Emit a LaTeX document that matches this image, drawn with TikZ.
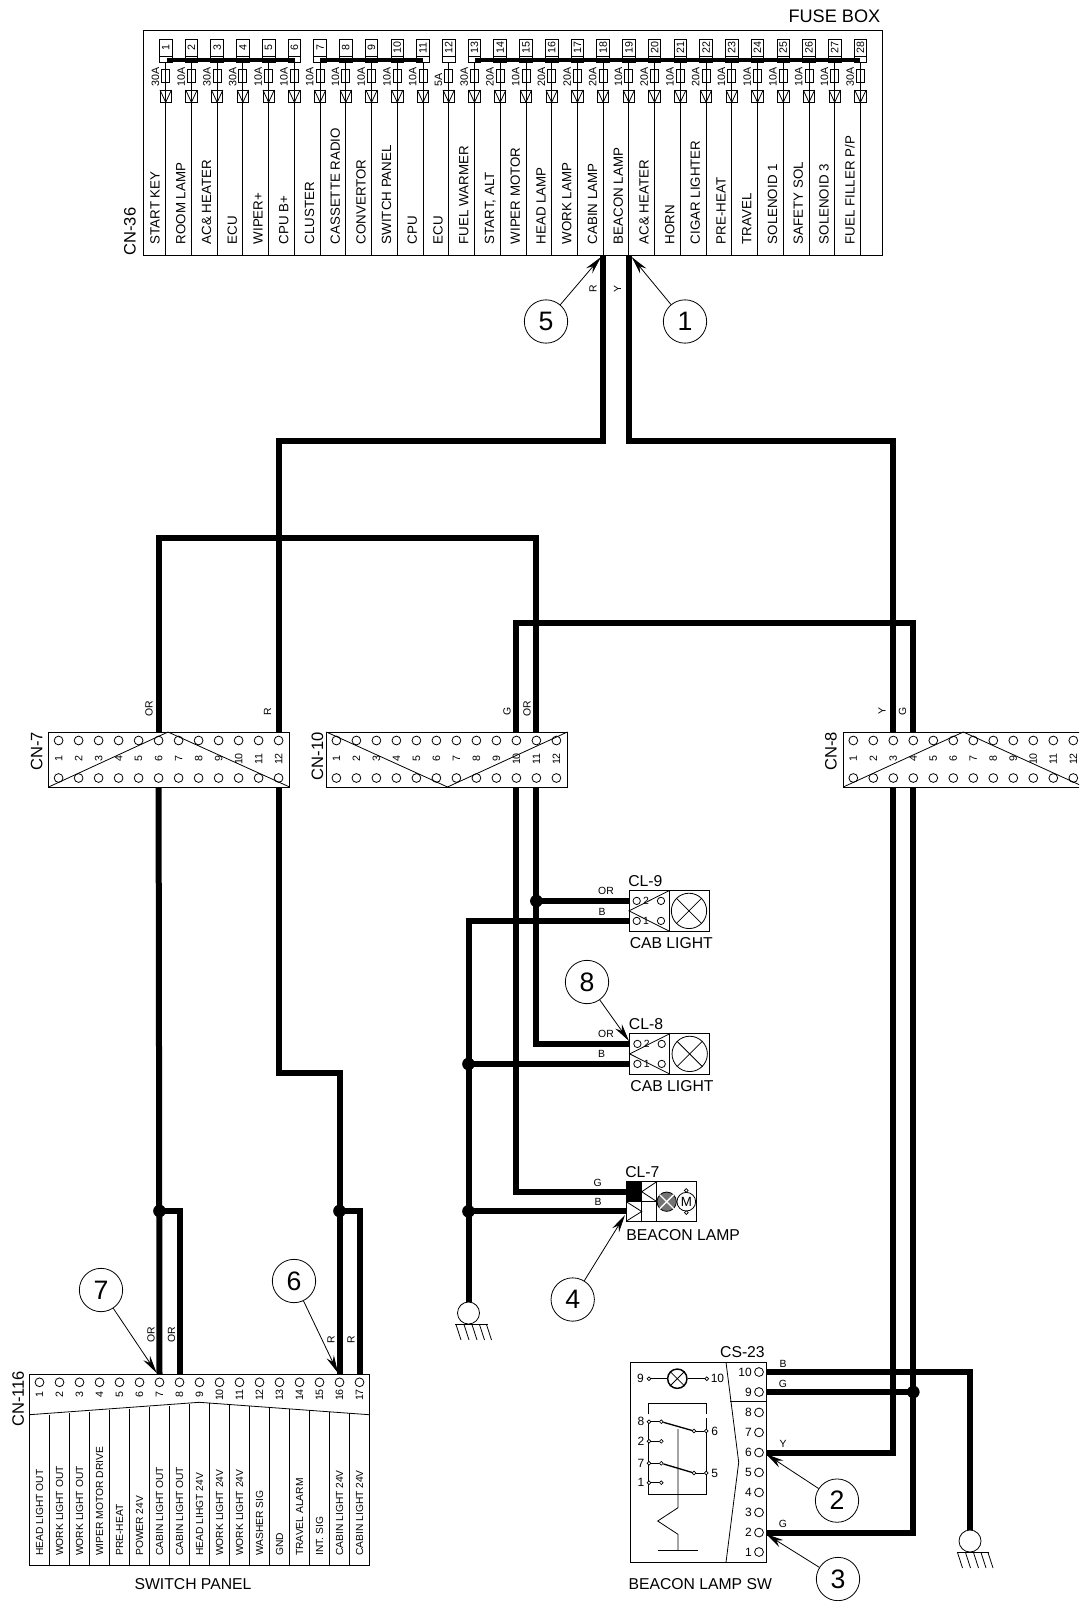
\documentclass[tikz,border=0pt]{standalone}
\usepackage{fontspec}
\setmainfont{Liberation Sans}
\usetikzlibrary{arrows.meta}
\tikzstyle{thinline} = [line width=0.6pt, draw=black]
\tikzstyle{wire} = [line width=4.5pt, draw=black]
\tikzstyle{busbar} = [line width=2.6pt, draw=black]
\tikzstyle{junction} = [circle, fill=black, inner sep=0pt, minimum size=9.5pt]
\tikzstyle{pinring} = [circle, draw=black, line width=0.6pt, inner sep=0pt, minimum size=6.6pt]
\tikzstyle{tinyring} = [circle, draw=black, fill=white, line width=0.5pt, inner sep=0pt, minimum size=2.8pt]
\tikzstyle{callout} = [circle, draw=black, line width=0.6pt, fill=white, inner sep=0pt, minimum size=32.5pt, font=\fontsize{20}{20}\selectfont]
\tikzstyle{callarrow} = [line width=0.6pt, -{Stealth[length=13.5pt,width=6pt]}]
\tikzstyle{gndring} = [circle, draw=black, line width=0.6pt, inner sep=0pt, minimum size=16.5pt]
\tikzstyle{title} = [inner sep=0pt, font=\fontsize{11.8}{12}\selectfont]
\tikzstyle{cnname} = [inner sep=0pt, rotate=90, font=\fontsize{12.4}{13}\selectfont]
\tikzstyle{fuselabel} = [inner sep=0pt, rotate=90, anchor=west, text depth=0pt, font=\fontsize{10}{10}\selectfont]
\tikzstyle{panellabel} = [inner sep=0pt, rotate=90, anchor=west, text depth=0pt, font=\fontsize{7.7}{8}\selectfont]
\tikzstyle{smallnum} = [inner sep=0pt, rotate=90, font=\fontsize{8}{8}\selectfont]
\tikzstyle{tag} = [inner sep=0pt, font=\fontsize{7.8}{8}\selectfont]
\tikzstyle{rtag} = [inner sep=0pt, rotate=90, font=\fontsize{7.8}{8}\selectfont]
\tikzstyle{csnum} = [inner sep=0pt, font=\fontsize{9}{9}\selectfont]
\begin{document}
\begin{tikzpicture}[x=0.75pt, y=-0.75pt]
  \clip (0,0) rectangle (1079,1601);
  \fill [white] (0,0) rectangle (1079,1601);
  % fuse box
  \draw [thinline] (143.7,30) rectangle (882.3,255.7);
  \node [title, font=\fontsize{13.6}{14}\selectfont, anchor=east] (fbname) at (880.5,16.7) {FUSE BOX};
  \node [cnname, anchor=west] (cn36) at (130,255.7) {CN-36};
  \foreach \lbl/\amp [count=\i] in {START KEY/30A, ROOM LAMP/10A, AC\& HEATER/30A, ECU/30A, WIPER+/10A, CPU B+/10A, CLUSTER/10A, CASSETTE RADIO/10A, CONVERTOR/10A, SWITCH PANEL/10A, CPU/10A, ECU/5A, FUEL WARMER/30A, {START, ALT}/20A, WIPER MOTOR/10A, HEAD LAMP/20A, WORK LAMP/20A, CABIN LAMP/20A, BEACON LAMP/10A, AC\& HEATER/20A, HORN/10A, CIGAR LIGHTER/20A, PRE-HEAT/10A, TRAVEL/10A, SOLENOID 1/10A, SAFETY SOL/10A, SOLENOID 3/10A, {FUEL FILLER P/P}/30A} {
    \pgfmathsetmacro{\px}{165.7+25.73*(\i-1)}
    \coordinate (fb\i) at (\px,255.7);
    \draw [thinline] (\px-6.3,39.3) rectangle (\px+6.3,62.7);
    \draw [thinline] (\px-6.3,56.7) -- (\px+6.3,56.7);
    \node [smallnum] (fbn\i) at (\px,47.7) {\i};
    \draw [thinline] (\px,62.7) -- (fb\i);
    \draw [thinline, fill=white] (\px-4,69.3) rectangle (\px+4,82);
    \draw [thinline] (\px,69) -- (\px,82);
    \draw [thinline] (\px-5.7,90) rectangle (\px+5.7,102.3);
    \draw [thinline] (\px-5.7,90) -- (\px,102.3) -- (\px+5.7,90);
    \node [smallnum, anchor=west] (fba\i) at (\px-10.3,86.5) {\amp};
    \node [fuselabel] (fbl\i) at (\px-10.7,244.5) {\lbl};
  }
  \draw [busbar] (166.5,60) -- (295,60);
  \draw [busbar] (320,60) -- (423,60);
  \draw [busbar] (475,60) -- (860.3,60);
  % connectors with twelve pins
  \foreach \cn/\lx in {cnvii/48.6, cnx/326.4, cnviii/843.3} {
    \draw [thinline] (\lx,732) rectangle (\lx+241,787);
    \foreach \i in {1,...,12} {
      \pgfmathsetmacro{\px}{\lx+10+20*(\i-1)}
      \node (\cn t\i) [pinring] at (\px,740.5) {};
      \node (\cn b\i) [pinring] at (\px,778) {};
      \node (\cn n\i) [smallnum] at (\px,759) {\i};
      \coordinate (\cn top\i) at (\px,732);
      \coordinate (\cn bot\i) at (\px,787);
    }
  }
  \draw [thinline] (48.6,787) -- (168,732) -- (289.6,787);
  \draw [thinline] (326.4,732) -- (447.5,787) -- (567.4,732);
  \draw [thinline] (843.3,787) -- (963.3,732) -- (1084.3,787);
  \node [cnname, anchor=east] (cn7) at (36.8,732) {CN-7};
  \node [cnname, anchor=east] (cn10) at (317.5,732) {CN-10};
  \node [cnname, anchor=east] (cn8) at (831,732) {CN-8};
  % switch panel
  \draw [thinline] (29.3,1374.3) rectangle (369.3,1565);
  \draw [thinline] (29.3,1414.7) -- (199.3,1402.3) -- (369.3,1414.7);
  \foreach \lbl [count=\i] in {HEAD LIGHT OUT, WORK LIGHT OUT, WORK LIGHT OUT, WIPER MOTOR DRIVE, PRE-HEAT, POWER 24V, CABIN LIGHT OUT, CABIN LIGHT OUT, HEAD LIHGT 24V, WORK LIGHT 24V, WORK LIGHT 24V, WASHER SIG, GND, TRAVEL ALARM, INT. SIG, CABIN LIGHT 24V, CABIN LIGHT 24V} {
    \pgfmathsetmacro{\px}{39.5+20*(\i-1)}
    \pgfmathsetmacro{\py}{1414.7-12.4*(1-abs(\i-9)/8.5)+0.7}
    \node (spr\i) [pinring] at (\px,1382.3) {};
    \node (spn\i) [smallnum] at (\px,1395) {\i};
    \node (spl\i) [panellabel] at (\px,1556) {\lbl};
    \coordinate (sp\i) at (\px,1374.3);
    \ifnum\i<17 \draw [thinline] (\px+10,\py) -- (\px+10,1565); \fi
  }
  \node [title] (spname) at (193,1584.3) {SWITCH PANEL};
  \node [cnname, anchor=west] (cn116) at (18.3,1427) {CN-116};
  % cab lights
  \foreach \cl/\tx/\ty/\nm in {clix/629/890.7/CL-9, clviii/629.7/1033.7/CL-8} {
    \draw [thinline] (\tx,\ty) rectangle (\tx+80,\ty+40.3);
    \draw [thinline] (\tx+40,\ty) -- (\tx+40,\ty+40.3);
    \draw [thinline] (\tx+40,\ty) -- (\tx,\ty+20.2) -- (\tx+40,\ty+40.3);
    \node (\cl a) [pinring, minimum size=5.5pt] at (\tx+7.7,\ty+10.2) {};
    \node (\cl b) [pinring, minimum size=5.5pt] at (\tx+32,\ty+10.2) {};
    \node (\cl c) [pinring, minimum size=5.5pt] at (\tx+7.7,\ty+30.2) {};
    \node (\cl d) [pinring, minimum size=5.5pt] at (\tx+32,\ty+30.2) {};
    \node (\cl u) [tag] at (\tx+17,\ty+10.2) {2};
    \node (\cl v) [tag] at (\tx+17,\ty+30.2) {1};
    \node (\cl l) [circle, draw=black, line width=0.6pt, inner sep=0pt, minimum size=26.5pt] at (\tx+60,\ty+20.2) {};
    \draw [thinline] (\cl l.north west) -- (\cl l.south east);
    \draw [thinline] (\cl l.north east) -- (\cl l.south west);
    \node (\cl m) [title, anchor=west] at (\tx-1,\ty-10) {\nm};
    \node (\cl n) [title, anchor=west] at (\tx+0.5,\ty+52.5) {CAB LIGHT};
  }
  % beacon lamp
  \fill [black] (626,1181.7) rectangle (641.7,1201.5);
  \draw [thinline] (626,1181.7) rectangle (696.7,1221.3);
  \draw [thinline] (641.7,1181.7) -- (641.7,1221.3);
  \draw [thinline] (656.7,1181.7) -- (656.7,1221.3);
  \draw [thinline] (626,1201.5) -- (656.7,1201.5);
  \draw [thinline] (626,1201.5) -- (641.7,1211.5) -- (626,1221.3);
  \draw [thinline] (656.7,1181.7) -- (641.7,1191.7) -- (656.7,1201.5);
  \node (beaconlamp) [circle, draw=black, fill=black!55, line width=0.6pt, inner sep=0pt, minimum size=14.5pt] at (666.7,1201.7) {};
  \draw [white, line width=1pt] (beaconlamp.north west) -- (beaconlamp.south east);
  \draw [white, line width=1pt] (beaconlamp.north east) -- (beaconlamp.south west);
  \node (beaconmotor) [circle, draw=black, line width=0.6pt, inner sep=0pt, minimum size=14pt, font=\fontsize{10}{10}\selectfont] at (686.3,1201.7) {M};
  \node (motora) [tinyring] at (686.3,1190.5) {};
  \node (motorb) [tinyring] at (686.3,1212.6) {};
  \node (cl7) [title, anchor=west] at (625,1172) {CL-7};
  \node (beaconname) [title, anchor=west] at (626,1234.7) {BEACON LAMP};
  % beacon lamp switch
  \draw [thinline] (630.7,1362.3) rectangle (766,1562.3);
  \draw [thinline] (726,1362.3) -- (738.7,1462.3) -- (726,1562.3);
  \draw [line width=1pt] (730,1401.7) -- (766,1401.7);
  \node (cs23) [title, anchor=east] at (765,1352) {CS-23};
  \foreach \i/\py in {10/1372, 9/1392, 8/1412.4, 7/1432.4, 6/1452.5, 5/1472.4, 4/1492.4, 3/1512.4, 2/1532.5, 1/1552} {
    \node (csr\i) [pinring] at (759,\py) {};
    \node (csn\i) [csnum, anchor=east] at (752,\py) {\i};
    \coordinate (cs\i) at (766,\py);
  }
  \node (swa) [tinyring] at (649,1378.7) {};
  \node (swlamp) [circle, draw=black, line width=1.1pt, inner sep=0pt, minimum size=14.5pt] at (677.3,1378.7) {};
  \draw [thinline] (swlamp.north west) -- (swlamp.south east);
  \draw [thinline] (swlamp.north east) -- (swlamp.south west);
  \node (swb) [tinyring] at (706.7,1378.7) {};
  \draw [thinline] (swa) -- (swlamp);
  \draw [thinline] (swlamp) -- (swb);
  \node (swc) [csnum, anchor=east] at (644,1378.7) {9};
  \node (swd) [csnum, anchor=west] at (710.5,1378.7) {10};
  \draw [thinline] (648.7,1414) -- (648.7,1403.3) -- (706.3,1403.3) -- (706.3,1414);
  \draw [thinline] (648.7,1421.7) -- (648.7,1494) -- (706.3,1494) -- (706.3,1418);
  \foreach \nm/\py in {viii/1421.7, ii/1441.3, vii/1463.3, i/1482.7} {
    \node (\nm a) [tinyring] at (649,\py) {};
    \node (\nm b) [tinyring] at (661.3,\py) {};
    \draw [thinline] (\nm a) -- (\nm b);
  }
  \node (via) [tinyring] at (694,1431) {};
  \node (vib) [tinyring] at (706.3,1431) {};
  \node (va) [tinyring] at (694,1473) {};
  \node (vb) [tinyring] at (706.3,1473) {};
  \draw [thinline] (via) -- (vib);
  \draw [thinline] (va) -- (vb);
  \draw [line width=1pt] (viiib) -- (via);
  \draw [line width=1pt] (viib) -- (va);
  \node (lb8) [csnum, anchor=east] at (644.5,1421.7) {8};
  \node (lb2) [csnum, anchor=east] at (644.5,1441.3) {2};
  \node (lb7) [csnum, anchor=east] at (644.5,1463.3) {7};
  \node (lb1) [csnum, anchor=east] at (644.5,1482.7) {1};
  \node (lb6) [csnum, anchor=west] at (711,1431) {6};
  \node (lb5) [csnum, anchor=west] at (711,1473) {5};
  \draw [thinline] (678,1429) -- (678,1507.7) -- (657.7,1521) -- (678,1534.3) -- (678,1550);
  \draw [thinline] (657.7,1550) -- (697.7,1550);
  \node (swname) [title, anchor=west] at (628.3,1584) {BEACON LAMP SW};
  % grounds
  \node (gnda) [gndring] at (468.5,1313) {};
  \node (gndb) [gndring] at (970,1541) {};
  \foreach \g in {gnda,gndb} {
    \begin{scope}[shift={(\g)}]
      \draw [thinline] (-13.5,11.5) -- (19,11.5);
      \foreach \hx in {-12.5,-4.5,3.5,11,18} \draw [thinline] (\hx,11.5) -- (\hx+5,27);
    \end{scope}
  }
  % wire ends at the lamps
  \coordinate (cl9or) at (629,901);
  \coordinate (cl9bk) at (629,921);
  \coordinate (cl8or) at (629.7,1043.7);
  \coordinate (cl8bk) at (629.7,1064);
  \coordinate (cl7gr) at (626,1192.3);
  \coordinate (cl7bk) at (626,1211.3);
  % wires
  \draw [wire] (fb18) -- ++(0,185) -| (cnviitop12);
  \draw [wire] (fb19) -- ++(0,185) -| (cnviiitop3);
  \draw [wire] (cnviitop6) -- ++(0,-194) -| (cnxtop11);
  \draw [wire] (cnxtop10) -- ++(0,-109) -| (cnviiitop4);
  \draw [wire] (cnviibot6) -- (sp7);
  \draw [wire] (cnviibot12) -- ++(0,286) -| (sp16);
  \draw [wire] (cnxbot11) |- (cl8or);
  \draw [wire] (cnxbot10) |- (cl7gr);
  \draw [wire] (cl9bk) -| (gnda.north);
  \draw [wire] (cnviiibot3) |- (cs6);
  \draw [wire] (cnviiibot4) |- (cs2);
  \draw [wire] (cs10) -| (gndb.north);
  \node (ja) [junction] at (sp7 |- 0,1211) {};
  \node (jb) [junction] at (sp16 |- 0,1211) {};
  \node (jc) [junction] at (cnxbot11 |- cl9or) {};
  \node (jd) [junction] at (468.5,1064) {};
  \node (je) [junction] at (468.5,1211.3) {};
  \node (jf) [junction] at (cnviiibot4 |- cs9) {};
  \draw [wire] (ja.center) -| (sp8);
  \draw [wire] (jb.center) -| (sp17);
  \draw [wire] (jc.center) -- (cl9or);
  \draw [wire] (jd.center) -- (cl8bk);
  \draw [wire] (je.center) -- (cl7bk);
  \draw [wire] (jf.center) -- (cs9);
  % wire colour tags
  \node (t1) [rtag] at (593,289) {R};
  \node (t2) [rtag] at (617.6,289) {Y};
  \node (t3) [rtag] at (149,709) {OR};
  \node (t4) [rtag] at (267.5,711.5) {R};
  \node (t5) [rtag] at (507,711.5) {G};
  \node (t6) [rtag] at (527,709) {OR};
  \node (t7) [rtag] at (882,711.5) {Y};
  \node (t8) [rtag] at (902.5,711.5) {G};
  \node (t9) [rtag] at (151,1335) {OR};
  \node (t10) [rtag] at (171.5,1335) {OR};
  \node (t11) [rtag] at (331,1340) {R};
  \node (t12) [rtag] at (351,1340) {R};
  \node (t13) [tag] at (606,891.3) {OR};
  \node (t14) [tag] at (602,912) {B};
  \node (t15) [tag] at (606,1034) {OR};
  \node (t16) [tag] at (601.5,1054) {B};
  \node (t17) [tag] at (597.7,1183.3) {G};
  \node (t18) [tag] at (598,1202.3) {B};
  \node (t19) [tag] at (783,1364) {B};
  \node (t20) [tag] at (783,1384) {G};
  \node (t21) [tag] at (783,1444) {Y};
  \node (t22) [tag] at (783,1524) {G};
  % callouts
  \node (c1) [callout] at (685,321.5) {1};
  \node (c2) [callout] at (837,1500.6) {2};
  \node (c3) [callout] at (838,1579) {3};
  \node (c4) [callout] at (572.7,1299.5) {4};
  \node (c5) [callout] at (546,321.5) {5};
  \node (c6) [callout] at (294,1281) {6};
  \node (c7) [callout] at (101,1290) {7};
  \node (c8) [callout] at (587,982) {8};
  \coordinate (a1) at (631.7,257);
  \coordinate (a2) at (766,1454);
  \coordinate (a3) at (766,1534);
  \coordinate (a4) at (625,1215);
  \coordinate (a5) at (601,257);
  \coordinate (a6) at (338,1373);
  \coordinate (a7) at (156.7,1373);
  \coordinate (a8) at (629,1041);
  \foreach \i in {1,...,8} \draw [callarrow] (c\i) -- (a\i);
\end{tikzpicture}
\end{document}
